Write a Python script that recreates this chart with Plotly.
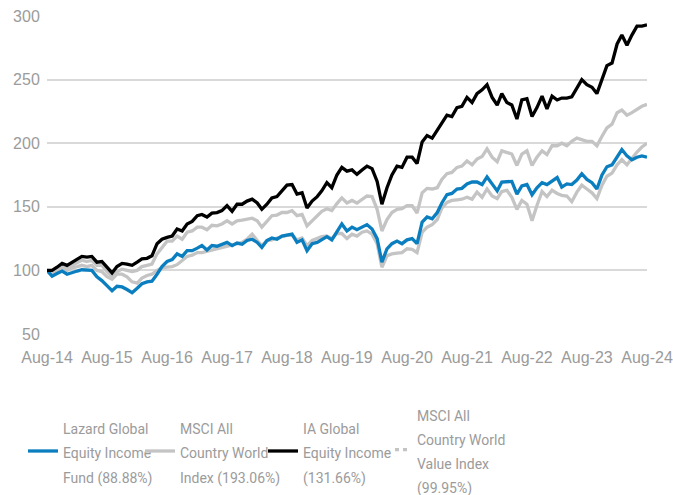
import pandas as pd
import plotly.graph_objects as go

# Monthly dates Aug-2014 .. Aug-2024 (121 points)
dates = pd.date_range("2014-08-01", "2024-08-01", freq="MS")

lazard_fund = [
    100, 95.5, 97.5, 99.5, 97, 98.5, 99.5, 100.5, 100.5, 100,
    95, 92, 88, 84, 87.5, 87, 85, 82.5, 86, 89.5,
    91, 91.5, 97, 103, 107, 108.5, 113, 111, 115.5, 115.5,
    117.5, 119.5, 116, 119.5, 119, 120.5, 122, 119.5, 121.5, 120.5,
    123.5, 124.5, 122, 118, 123.5, 125.5, 124.5, 127, 127.5, 128.5,
    122, 124, 115.5, 121, 122, 124, 126.5, 124, 131, 136.5,
    131, 134, 132, 134, 136, 132.5, 125, 106.5, 117, 121,
    123, 121, 124, 125, 121, 138, 142, 140.5, 145.5, 153,
    159.5, 160.5, 164, 164.5, 168, 169.5, 169.5, 167.5, 173.5, 168,
    162.5, 169.5, 169.5, 170, 160, 166.5, 167.5, 159.5, 165, 169,
    167.5, 170, 173, 165.5, 168, 167.5, 171, 176, 171.5, 169,
    164, 175, 181.5, 183, 189, 195, 190, 187, 189, 190,
    189,
]

grey_upper = [
    100, 99.5, 101, 103, 102, 104, 106, 108, 107, 108,
    104, 104, 99, 95, 99, 101, 100, 99, 100, 103,
    104, 105, 113, 118, 123, 123, 127, 124.5, 130, 131,
    134, 134, 132, 135.5, 135, 136.5, 139, 136.5, 139, 139.5,
    140.5, 141, 139, 134, 138.5, 143, 143.5, 145.5, 145.5, 147,
    143, 144, 135, 139, 143, 146.5, 148.5, 147, 152.5, 157,
    153, 155, 153, 156, 158.5, 158, 148, 131, 140, 145.5,
    148, 148.5, 151, 151, 145, 161, 164.5, 164, 165, 171.5,
    176, 177, 181, 182, 186, 183, 187.5, 189.5, 195.5, 189,
    185.5, 194, 193, 191.5, 182.5, 191.5, 194, 182.5, 189, 194,
    191, 198, 198, 200, 198, 201.5, 204, 203, 201.5, 201.5,
    198, 205.5, 212, 215, 224, 226, 222, 224, 226.5, 229,
    230.5,
]

black_line = [
    100, 100, 102.5, 105.5, 104, 106.5, 109, 111, 110.5, 111,
    106.5, 107, 102.5, 98, 103, 105.5, 105, 104, 106.5, 109,
    109.5, 111.5, 121, 124.5, 126, 127, 132.5, 131, 136.5, 138.5,
    143, 144, 142, 145, 145.5, 147, 151, 146.5, 152, 152,
    154.5, 156, 153, 148, 152, 157, 158, 162.5, 167, 167.5,
    160, 161, 149, 154.5, 158, 162.5, 169, 165, 175, 181,
    178, 179, 175.5, 179, 182, 180, 170, 152, 165, 175,
    182, 181, 189, 189, 184, 201, 206, 204, 210, 216,
    222, 221, 228, 229, 236, 232, 239, 242, 246, 236,
    230, 239, 232, 230, 219, 234, 235, 221, 228, 237,
    227, 237, 234, 235.5, 235.5, 236.5, 243.5, 250, 246, 244,
    239, 251, 261, 263, 278, 285, 277, 285, 292, 292,
    293,
]

grey_lower = [
    100, 98, 99, 101, 100, 102, 103, 104, 103, 104,
    100, 99, 95, 93, 97, 97, 95, 91, 90, 94,
    96, 97, 100, 102, 102.5, 103, 104.5, 108, 111, 112,
    114, 114, 115, 115.5, 117, 117.5, 119, 119.5, 121, 122,
    124.5, 128.5, 123.5, 119.5, 123.5, 124, 125.5, 126.5, 127.5, 127.5,
    124, 125.5, 119.5, 123.5, 125, 126.5, 127, 125, 129, 129,
    125, 128.5, 127, 130, 131, 128.5, 121, 102.5, 111.5, 113,
    113.5, 114, 117, 116.5, 114, 130, 134, 136, 140, 149,
    153.5, 155, 155.5, 156, 157.5, 156, 161.5, 157.5, 164, 158.5,
    156.5, 162, 163, 157.5, 148, 155, 152, 139, 151, 162,
    158, 163, 160.5, 159, 158.5, 154, 161.5, 167, 164, 161,
    156.5, 167, 174, 176.5, 183, 187, 183, 188, 193, 197,
    200,
]

legend_lines = [
    ["Lazard Global", "Equity Income", "Fund (88.88%)"],
    ["MSCI All", "Country World", "Index (193.06%)"],
    ["IA Global", "Equity Income", "(131.66%)"],
    ["MSCI All", "Country World", "Value Index", "(99.95%)"],
]

y_ticks = [50, 100, 150, 200, 250, 300]

BLUE = "#0A7EBF"
GREY = "#C4C4C4"
TXT = "#9B9B9B"
LW = 3.3


def legend_label(lines):
    # small glyphs inside a larger line box to get the wide line spacing of the original
    return "<br>".join('<span style="font-size:14px">%s</span>' % s for s in lines)


LEG_FONT = dict(family="Roboto, Liberation Sans, sans-serif", size=18.7, color=TXT)

fig = go.Figure()

fig.add_trace(go.Scatter(x=dates, y=grey_lower, mode="lines", showlegend=False,
                         line=dict(color=GREY, width=LW)))
fig.add_trace(go.Scatter(x=dates, y=grey_upper, mode="lines", name=legend_label(legend_lines[1]),
                         legendrank=2, legendwidth=78,
                         line=dict(color=GREY, width=LW)))
fig.add_trace(go.Scatter(x=dates, y=lazard_fund, mode="lines", name=legend_label(legend_lines[0]),
                         legendrank=1, legendwidth=72,
                         line=dict(color=BLUE, width=LW)))
fig.add_trace(go.Scatter(x=dates, y=black_line, mode="lines", name=legend_label(legend_lines[2]),
                         legendrank=3, legendwidth=95,
                         line=dict(color="#000000", width=LW)))
fig.add_trace(go.Scatter(x=[None], y=[None], mode="lines", name=legend_label(legend_lines[3]),
                         legend="legend2", legendwidth=100,
                         line=dict(color=GREY, width=LW, dash="0px,13px,4px,4px,4px,100px")))

fig.update_layout(
    width=673, height=495,
    margin=dict(l=47, r=26, t=16, b=161, autoexpand=False),
    plot_bgcolor="white", paper_bgcolor="white",
    font=dict(family="Liberation Sans, Arial, sans-serif", size=16, color=TXT),
    legend=dict(orientation="h", x=-0.04, xanchor="left", y=-0.368, yanchor="middle",
                valign="middle", itemwidth=30, traceorder="normal",
                font=LEG_FONT, bgcolor="rgba(0,0,0,0)"),
    legend2=dict(orientation="h", x=0.55, xanchor="left", y=-0.365, yanchor="middle",
                 valign="middle", itemwidth=30,
                 font=LEG_FONT, bgcolor="rgba(0,0,0,0)"),
)

fig.update_xaxes(
    range=[dates[0], dates[-1]], automargin=False,
    tickformat="%b-%y", dtick="M12", tick0=dates[0],
    showgrid=False, zeroline=False, showline=False,
    ticks="outside", ticklen=9, tickcolor="rgba(0,0,0,0)",
    ticklabeloverflow="allow",
    tickfont=dict(size=16, color=TXT),
)
fig.update_yaxes(
    range=[50, 300], tickvals=y_ticks, automargin=False,
    showgrid=True, gridcolor="#D9D9D9", gridwidth=1.5,
    zeroline=False, showline=False,
    ticks="outside", ticklen=3, tickcolor="rgba(0,0,0,0)",
    ticklabeloverflow="allow",
    tickfont=dict(size=16, color=TXT),
)

# remove the default page margin so the figure fills the window exactly
fig.write_html("out.html",
               config={"displayModeBar": False},
               post_script="document.body.style.margin='0';document.body.style.overflow='hidden';")
